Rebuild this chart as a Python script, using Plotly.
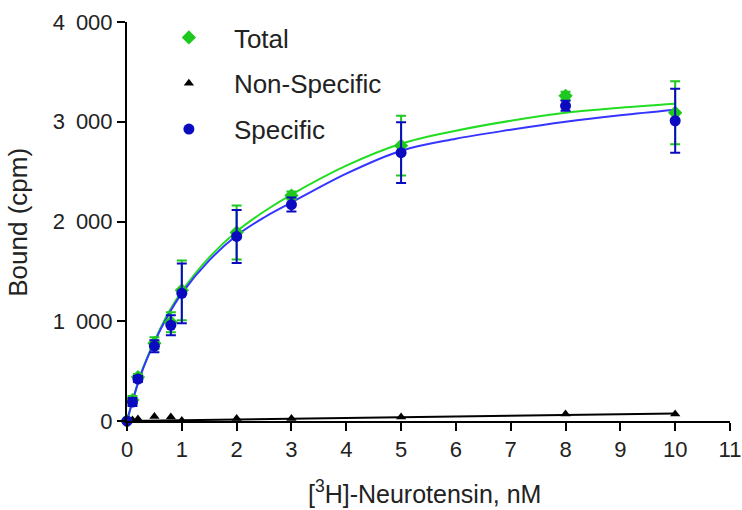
import plotly.graph_objects as go

# ---- data ----
conc = [0, 0.1, 0.2, 0.5, 0.8, 1, 2, 3, 5, 8, 10]
total = [0, 210, 440, 780, 990, 1310, 1890, 2260, 2760, 3260, 3090]
total_err = [0, 40, 30, 60, 100, 300, 270, 40, 300, 40, 315]
specific = [0, 190, 420, 750, 960, 1280, 1850, 2170, 2690, 3160, 3010]
specific_err = [0, 40, 30, 60, 100, 300, 265, 70, 305, 50, 320]
nonspec = [0, 10, 20, 45, 40, 5, 25, 25, 40, 70, 70]

# fitted curves
fit_x = [0, 0.25, 0.5, 0.75, 1, 1.5, 2, 2.5, 3, 4, 5, 6, 7, 8, 9, 10]
fit_total = [0, 470, 800, 1080, 1300, 1640, 1900, 2100, 2270, 2560, 2780, 2910, 3010, 3090, 3140, 3180]
fit_specific = [0, 460, 790, 1060, 1280, 1610, 1860, 2040, 2190, 2480, 2710, 2830, 2920, 3000, 3065, 3120]
fit_ns_x = [0, 10]
fit_ns = [0, 75]

y_ticks = [0, 1000, 2000, 3000, 4000]
y_ticktext = ["0", "1\u2002000", "2\u2002000", "3\u2002000", "4\u2002000"]
x_ticks = list(range(0, 12))

GREEN_M = "#1ec81e"
GREEN_L = "#22dd22"
BLUE_M = "#0a0ac0"
BLUE_L = "#3535ff"
FONT = "Liberation Sans, Arial, sans-serif"

fig = go.Figure()

# curves
fig.add_trace(go.Scatter(x=fit_x, y=fit_total, mode="lines", line=dict(color=GREEN_L, width=2, shape="spline"),
                         showlegend=False, hoverinfo="skip", cliponaxis=False))
fig.add_trace(go.Scatter(x=fit_x, y=fit_specific, mode="lines", line=dict(color=BLUE_L, width=2, shape="spline"),
                         showlegend=False, hoverinfo="skip", cliponaxis=False))
fig.add_trace(go.Scatter(x=fit_ns_x, y=fit_ns, mode="lines", line=dict(color="black", width=2),
                         showlegend=False, hoverinfo="skip", cliponaxis=False))

# data
fig.add_trace(go.Scatter(x=conc, y=total, mode="markers", name="Total", legendgroup="a", legendrank=1,
                         marker=dict(symbol="diamond", size=11, color=GREEN_M),
                         error_y=dict(type="data", array=total_err, color=GREEN_M, thickness=2, width=5),
                         cliponaxis=False))
fig.add_trace(go.Scatter(x=conc, y=nonspec, mode="markers", name="Non-Specific", legendgroup="b", legendrank=2,
                         marker=dict(symbol="triangle-up", size=9, color="black"),
                         cliponaxis=False))
fig.add_trace(go.Scatter(x=conc, y=specific, mode="markers", name="Specific", legendgroup="c", legendrank=3,
                         marker=dict(symbol="circle", size=11, color=BLUE_M),
                         error_y=dict(type="data", array=specific_err, color=BLUE_M, thickness=2, width=5),
                         cliponaxis=False))

fig.update_layout(
    width=742, height=510,
    margin=dict(l=127, r=12, t=22, b=89, autoexpand=False),
    plot_bgcolor="white", paper_bgcolor="white",
    font=dict(family=FONT, size=22, color="#222222"),
    showlegend=True,
    legend=dict(x=0.028, y=1.02, xanchor="left", yanchor="top", font=dict(size=26),
                itemwidth=80, tracegroupgap=9, bgcolor="rgba(0,0,0,0)"),
    xaxis=dict(range=[0, 11], tickvals=x_ticks, ticks="outside", ticklen=8, tickwidth=2,
               tickcolor="black", showline=True, linecolor="black", linewidth=2, automargin=False,
               showgrid=False, zeroline=False, tickfont=dict(size=22)),
    yaxis=dict(range=[0, 4000], tickvals=y_ticks, ticktext=y_ticktext, ticks="outside", ticklen=8,
               tickwidth=2, tickcolor="black", showline=True, linecolor="black", linewidth=2, automargin=False,
               showgrid=False, zeroline=False, tickfont=dict(size=22)),
    annotations=[
        dict(text="[<sup>3</sup>H]-Neurotensin, nM", xref="paper", yref="paper", x=0.494, y=-0.222,
             xanchor="center", yanchor="bottom", showarrow=False, font=dict(size=25)),
        dict(text="Bound (cpm)", xref="paper", yref="paper", x=-0.181, y=0.499, textangle=-90,
             xanchor="center", yanchor="middle", showarrow=False, font=dict(size=26)),
    ],
)

fig.write_html("out.html", config={"displayModeBar": False},
               post_script="document.body.style.margin='0';document.body.style.overflow='hidden';")
